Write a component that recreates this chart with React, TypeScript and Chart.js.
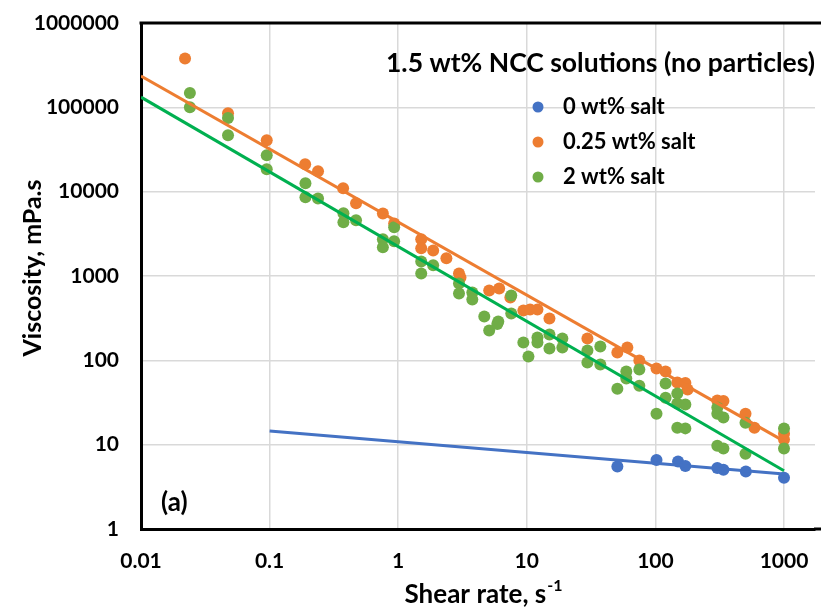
import { useEffect, useRef } from 'react';
import { Chart, registerables } from 'chart.js';

Chart.register(...registerables);

const FONT = 'Lato, "Open Sans", sans-serif';

const xTickValues = [0.01, 0.1, 1, 10, 100, 1000];
const xTickLabels = ['0.01', '0.1', '1', '10', '100', '1000'];
const yTickValues = [1, 10, 100, 1000, 10000, 100000, 1000000];
const yTickLabels = ['1', '10', '100', '1000', '10000', '100000', '1000000'];

const seriesNames = ['0 wt% salt', '0.25 wt% salt', '2 wt% salt'];
const legendTitle = '1.5 wt% NCC solutions (no particles)';
const panelLabel = '(a)';
const xTitle = 'Shear rate, s';
const xTitleSup = '-1';
const yTitle = 'Viscosity, mPa.s';

// 0 wt% salt
const shear0 = [50.6, 102, 150, 171, 303, 338, 505, 1000];
const visc0 = [5.5, 6.6, 6.3, 5.6, 5.3, 5.05, 4.8, 4.05];

// 0.25 wt% salt
const shear025 = [0.022, 0.0475, 0.095, 0.189, 0.238, 0.373, 0.47, 0.76, 0.93, 1.51, 1.51, 1.87, 2.37, 2.97, 3.05, 5.1, 6.1, 7.45, 9.4, 10.6, 12.1, 15, 29.6, 50.6, 60.5, 75, 102, 120, 148, 171, 178, 303, 338, 502, 589, 1000, 1000];
const visc025 = [380000, 85000, 40700, 21100, 17500, 11000, 7300, 5500, 4200, 2720, 2130, 2010, 1620, 1070, 960, 675, 713, 557, 390, 400, 400, 313, 182, 124, 142, 99.6, 80, 73.6, 54.5, 54, 45, 33.3, 33, 23.3, 15.9, 13.5, 11.5];

// 2 wt% salt
const shear2 = [0.024, 0.024, 0.0475, 0.0475, 0.095, 0.095, 0.19, 0.19, 0.238, 0.375, 0.375, 0.47, 0.76, 0.76, 0.93, 0.93, 1.51, 1.51, 1.87, 2.97, 2.97, 3.77, 3.77, 4.67, 5.1, 6.0, 5.9, 7.57, 7.57, 9.4, 10.3, 12.1, 12.1, 15, 15, 18.9, 18.9, 29.6, 29.6, 37.3, 37.3, 50.6, 59.4, 59.4, 75, 75, 102, 120, 120, 148, 148, 148, 171, 171, 303, 303, 303, 338, 338, 502, 502, 1000, 1000];
const visc2 = [147700, 100000, 74500, 46800, 27000, 18500, 12600, 8570, 8300, 5530, 4340, 4570, 2720, 2190, 3780, 2580, 1490, 1070, 1340, 817, 621, 638, 527, 331, 226, 289, 270, 589, 360, 163, 111, 187, 163, 202, 138, 182, 142, 131, 94, 146, 89, 46, 73.6, 60.8, 77.8, 50, 23.3, 53, 36, 40.4, 30.7, 15.9, 30, 15.6, 27.5, 23.3, 9.7, 21, 9.0, 18.2, 7.8, 15.5, 9.0];

// power-law trend lines (endpoints)
const trend0X = [0.1, 1000];
const trend0Y = [14.5, 4.5];
const trend025X = [0.01, 1000];
const trend025Y = [235000, 11];
const trend2X = [0.01, 1000];
const trend2Y = [132000, 4.9];

const BLUE = '#4472C4';
const ORANGE = '#ED7D31';
const GREEN = '#70AD47';
const GREEN_LINE = '#00B050';
const GRID = '#d9d9d9';

const pts = (xs: number[], ys: number[]) => xs.map((x, i) => ({ x, y: ys[i] }));

const overlay = {
  id: 'overlay',
  afterDraw(chart: any) {
    const { ctx, chartArea } = chart;
    ctx.save();
    // top border and bottom border extension to the canvas edge
    ctx.strokeStyle = '#000';
    ctx.lineWidth = 3;
    ctx.beginPath();
    ctx.moveTo(chartArea.left - 1.5, chartArea.top);
    ctx.lineTo(chart.width, chartArea.top);
    ctx.moveTo(chartArea.right - 1, chartArea.bottom);
    ctx.lineTo(chart.width, chartArea.bottom);
    ctx.stroke();

    ctx.fillStyle = '#000';
    ctx.textBaseline = 'alphabetic';
    // legend title
    ctx.font = `bold 26.5px ${FONT}`;
    ctx.textAlign = 'right';
    ctx.fillText(legendTitle, 815, 72);
    // legend items
    const colors = [BLUE, ORANGE, GREEN];
    const ys = [114, 149, 184];
    ctx.font = `bold 22px ${FONT}`;
    ctx.textAlign = 'left';
    seriesNames.forEach((n, i) => {
      ctx.fillStyle = colors[i];
      ctx.beginPath();
      ctx.arc(538, ys[i] - 7, 5.5, 0, Math.PI * 2);
      ctx.fill();
      ctx.fillStyle = '#000';
      ctx.fillText(n, 563, ys[i]);
    });
    // panel label
    ctx.font = `bold 26px ${FONT}`;
    ctx.fillText(panelLabel, 161, 511);
    // x title
    ctx.font = `bold 26px ${FONT}`;
    const w1 = ctx.measureText(xTitle).width;
    ctx.font = `bold 16px ${FONT}`;
    const w2 = ctx.measureText(xTitleSup).width;
    const x0 = 483 - (w1 + w2) / 2;
    ctx.font = `bold 26px ${FONT}`;
    ctx.fillText(xTitle, x0, 603);
    ctx.font = `bold 16px ${FONT}`;
    ctx.fillText(xTitleSup, x0 + w1 + 1, 591);
    // y title
    ctx.translate(41, 268);
    ctx.rotate(-Math.PI / 2);
    ctx.font = `bold 25px ${FONT}`;
    ctx.textAlign = 'center';
    ctx.fillText(yTitle, 0, 0);
    ctx.restore();
  },
};

export default function App() {
  const ref = useRef<HTMLCanvasElement>(null);
  useEffect(() => {
    if (!ref.current) return;
    const chart = new Chart(ref.current, {
      type: 'scatter',
      data: {
        datasets: [
          { type: 'line', data: pts(trend2X, trend2Y), borderColor: GREEN_LINE, borderWidth: 3, pointRadius: 0, order: 0 } as any,
          { type: 'line', data: pts(trend025X, trend025Y), borderColor: ORANGE, borderWidth: 3, pointRadius: 0, order: 0 } as any,
          { type: 'line', data: pts(trend0X, trend0Y), borderColor: BLUE, borderWidth: 3, pointRadius: 0, order: 0 } as any,
          { label: seriesNames[2], data: pts(shear2, visc2), backgroundColor: GREEN, borderColor: GREEN, pointRadius: 6, borderWidth: 0, order: 1 },
          { label: seriesNames[1], data: pts(shear025, visc025), backgroundColor: ORANGE, borderColor: ORANGE, pointRadius: 6, borderWidth: 0, order: 2 },
          { label: seriesNames[0], data: pts(shear0, visc0), backgroundColor: BLUE, borderColor: BLUE, pointRadius: 6, borderWidth: 0, order: 3 },
        ],
      },
      options: {
        responsive: false,
        animation: false,
        devicePixelRatio: 1,
        layout: { padding: { left: 0, right: 0, top: 23, bottom: 0 } },
        plugins: { legend: { display: false }, tooltip: { enabled: false } },
        scales: {
          x: {
            type: 'logarithmic',
            min: 0.01,
            max: 1742,
            afterBuildTicks: (s: any) => { s.ticks = xTickValues.map((v) => ({ value: v })); },
            afterFit: (s: any) => { s.height = 83; s.paddingLeft = 0; s.paddingRight = 0; },
            ticks: {
              autoSkip: false,
              maxRotation: 0,
              padding: 20,
              color: '#000',
              font: { family: FONT, size: 21, weight: 'bold' },
              callback: (v: any) => xTickLabels[xTickValues.indexOf(Number(v))] ?? '',
            },
            grid: { color: GRID, lineWidth: 1.5, drawTicks: false },
            border: { color: '#000', width: 3 },
          },
          y: {
            type: 'logarithmic',
            min: 1,
            max: 1000000,
            afterBuildTicks: (s: any) => { s.ticks = yTickValues.map((v) => ({ value: v })); },
            afterFit: (s: any) => { s.width = 141; s.paddingTop = 0; s.paddingBottom = 0; },
            ticks: {
              autoSkip: false,
              padding: 22,
              color: '#000',
              font: { family: FONT, size: 21, weight: 'bold' },
              callback: (v: any) => yTickLabels[yTickValues.indexOf(Number(v))] ?? '',
            },
            grid: { color: GRID, lineWidth: 1.5, drawTicks: false },
            border: { color: '#000', width: 3 },
          },
        },
      },
      plugins: [overlay],
    });
    return () => chart.destroy();
  }, []);
  return (
    <div style={{ position: 'fixed', left: 0, top: 0, width: 821, height: 612, background: '#fff' }}>
      <canvas ref={ref} width={821} height={612} />
    </div>
  );
}
